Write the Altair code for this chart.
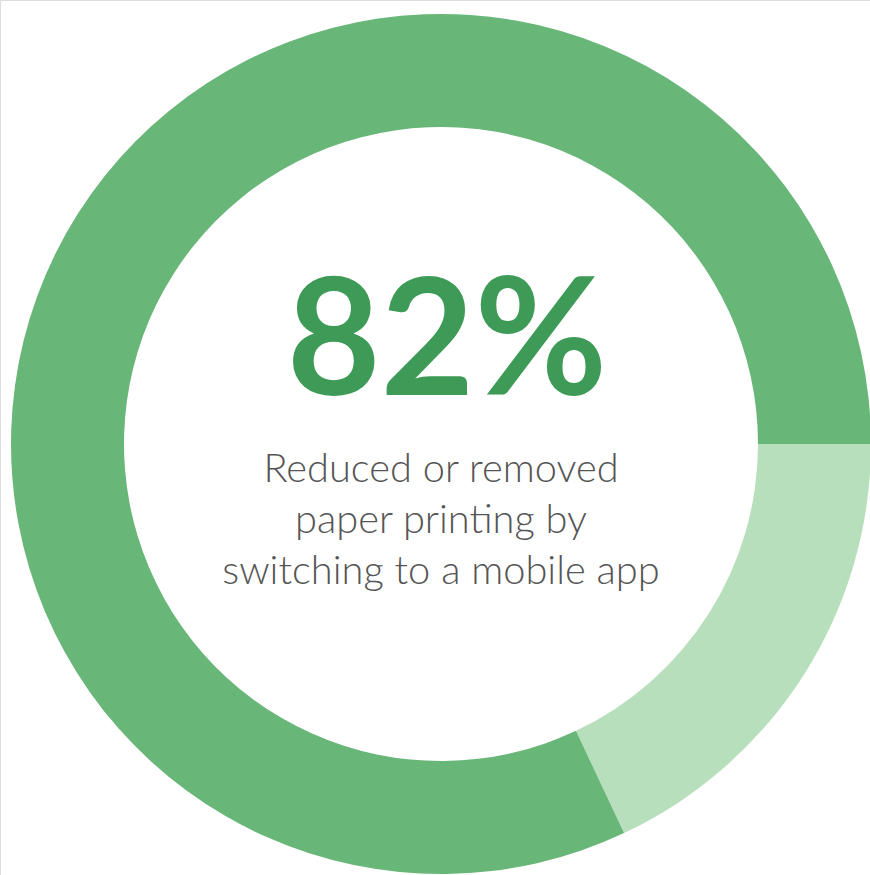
import math
import altair as alt
import pandas as pd

segments = ["Other", "Reduced or removed paper printing"]
values = [18, 82]
colors = ["#b8dfbb", "#68b678"]
headline = "82%"
subtitle_lines = ["Reduced or removed", "paper printing by", "switching to a mobile app"]

df = pd.DataFrame({"segment": segments, "value": values, "idx": list(range(len(segments)))})

CX, CY = 441, 444

ring = alt.Chart(df).mark_arc(outerRadius=430, innerRadius=317, stroke=None).encode(
    theta=alt.Theta("value:Q", stack=True,
                    scale=alt.Scale(range=[math.pi / 2, math.pi / 2 + 2 * math.pi])),
    color=alt.Color("segment:N", scale=alt.Scale(domain=segments, range=colors), legend=None),
    order=alt.Order("idx:Q"),
    x=alt.value(CX),
    y=alt.value(CY),
)

head = alt.Chart(pd.DataFrame({"t": [headline]})).mark_text(
    font="Lato", fontWeight="bold", fontSize=162, color="#3d9a57",
    align="center", baseline="alphabetic",
).encode(text="t:N", x=alt.value(CX + 6), y=alt.value(395))

sub = alt.Chart(pd.DataFrame({"t": [subtitle_lines]})).mark_text(
    font="Lato", fontWeight=300, fontSize=39.8, color="#555555",
    align="center", baseline="alphabetic", lineHeight=51,
).encode(text="t", x=alt.value(CX), y=alt.value(482))

chart = alt.layer(ring, head, sub).properties(
    width=870, height=875, padding=0, autosize="none",
).configure_view(strokeWidth=0).configure(background="white")

chart.save("out.html", embed_options={"renderer": "svg", "actions": False})
